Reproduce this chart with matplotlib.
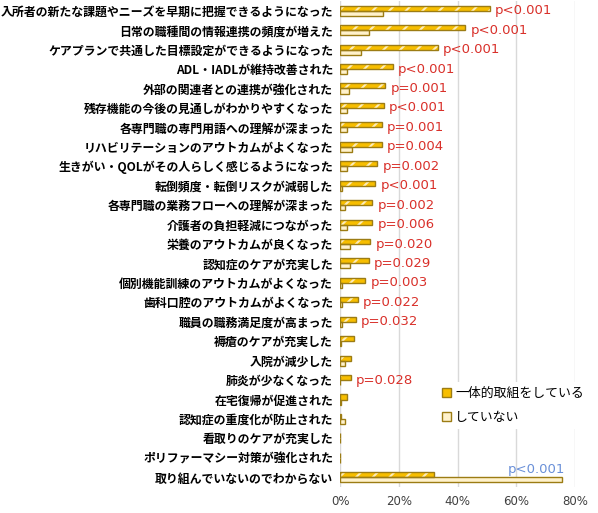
import numpy as np
import matplotlib.pyplot as plt
from matplotlib.patches import Patch

plt.rcParams['font.family'] = ['Noto Sans CJK JP', 'DejaVu Sans']
plt.rcParams['hatch.linewidth'] = 1.5
plt.rcParams['hatch.color'] = '#FFEDB8'

categories = [
    '入所者の新たな課題やニーズを早期に把握できるようになった',
    '日常の職種間の情報連携の頻度が増えた',
    'ケアプランで共通した目標設定ができるようになった',
    'ADL・IADLが維持改善された',
    '外部の関連者との連携が強化された',
    '残存機能の今後の見通しがわかりやすくなった',
    '各専門職の専門用語への理解が深まった',
    'リハビリテーションのアウトカムがよくなった',
    '生きがい・QOLがその人らしく感じるようになった',
    '転倒頻度・転倒リスクが減弱した',
    '各専門職の業務フローへの理解が深まった',
    '介護者の負担軽減につながった',
    '栄養のアウトカムが良くなった',
    '認知症のケアが充実した',
    '個別機能訓練のアウトカムがよくなった',
    '歯科口腔のアウトカムがよくなった',
    '職員の職務満足度が高まった',
    '褥瘡のケアが充実した',
    '入院が減少した',
    '肺炎が少なくなった',
    '在宅復帰が促進された',
    '認知症の重度化が防止された',
    '看取りのケアが充実した',
    'ポリファーマシー対策が強化された',
    '取り組んでいないのでわからない',
]

integrated = [50.9, 42.6, 33.3, 17.9, 15.3, 14.8, 14.2, 14.2, 12.6, 12.0,
              11.0, 11.0, 10.3, 9.8, 8.6, 6.1, 5.4, 4.6, 3.9, 3.6,
              2.4, 0.2, 0, 0, 31.8]
not_integrated = [14.6, 9.8, 7.3, 2.4, 3.2, 2.4, 2.4, 4.1, 2.4, 0.7,
                  1.6, 2.4, 3.3, 3.3, 0.7, 0.7, 0.7, 0.3, 1.6, 0,
                  0.3, 1.6, 0, 0, 75.6]

p_labels = ['p<0.001', 'p<0.001', 'p<0.001', 'p<0.001', 'p=0.001', 'p<0.001',
            'p=0.001', 'p=0.004', 'p=0.002', 'p<0.001', 'p=0.002', 'p=0.006',
            'p=0.020', 'p=0.029', 'p=0.003', 'p=0.022', 'p=0.032', '', '',
            'p=0.028', '', '', '', '', 'p<0.001']

series_names = ['一体的取組をしている', 'していない']

gold = '#F7BE00'
stripe = '#FFEDB8'
cream = '#FFF2CC'
edge = '#9C7C14'
red = '#D9302A'
blue = '#6A90D8'

fig = plt.figure(figsize=(5.98, 5.13), dpi=100)
ax = fig.add_axes([340 / 598, 26 / 513, 235.3 / 598, 486 / 513])

y = np.arange(len(categories))
h = 0.26

# hatched fill for first series, then outline on top
ax.barh(y - h / 2, integrated, height=h, color=gold, edgecolor=stripe,
        hatch='//', linewidth=0, zorder=3)
ax.barh(y - h / 2, integrated, height=h, facecolor='none', edgecolor=edge,
        linewidth=1.0, zorder=4)
ax.barh(y + h / 2, not_integrated, height=h, color=cream, edgecolor=edge,
        linewidth=1.0, zorder=3)

for i, lab in enumerate(p_labels):
    if not lab:
        continue
    if i == len(p_labels) - 1:
        ax.text(not_integrated[i] + 0.8, i - 0.42, lab, color=blue,
                fontsize=9.5, ha='right', va='center', family='DejaVu Sans')
    else:
        ax.text(integrated[i] + 1.8, i, lab, color=red, fontsize=9.5,
                ha='left', va='center', family='DejaVu Sans')

ax.set_xlim(0, 80)
ax.set_ylim(len(categories) - 0.5, -0.5)
ax.set_xticks([0, 20, 40, 60, 80])
ax.set_xticklabels(['0%', '20%', '40%', '60%', '80%'], fontsize=8.5,
                   color='#404040', family='DejaVu Sans')
ax.set_yticks(y)
ax.set_yticklabels(categories, fontsize=8.6, fontweight='bold')
ax.tick_params(axis='both', length=0)
ax.tick_params(axis='y', pad=5)
ax.tick_params(axis='x', pad=6)
ax.grid(axis='x', color='#D9D9D9', linewidth=1.0, zorder=0)
ax.set_axisbelow(True)
for s in ax.spines.values():
    s.set_visible(False)

handles = [
    Patch(facecolor=gold, edgecolor=edge, linewidth=1.0),
    Patch(facecolor=cream, edgecolor=edge, linewidth=1.0),
]
leg = ax.legend(handles, series_names, loc='upper left',
                bbox_to_anchor=((437 - 340) / 235.3, 1 - (382 - 1) / 486),
                frameon=True, framealpha=1, edgecolor='none',
                fontsize=9.3, handlelength=0.7, handleheight=0.7,
                handletextpad=0.3, labelspacing=0.85, borderpad=0.4,
                borderaxespad=0)
leg.set_zorder(5)

fig.savefig('out.png', dpi=100)
